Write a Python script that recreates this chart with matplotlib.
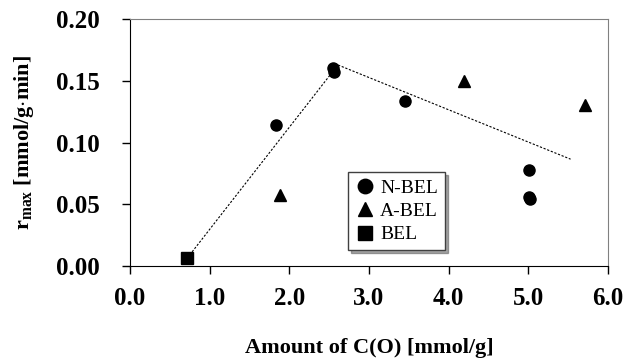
import matplotlib
matplotlib.use("Agg")
import matplotlib.pyplot as plt

plt.rcParams['font.family'] = ['Liberation Serif', 'DejaVu Serif']
plt.rcParams['mathtext.fontset'] = 'custom'
plt.rcParams['mathtext.rm'] = 'Liberation Serif'
plt.rcParams['mathtext.bf'] = 'Liberation Serif:bold'

# data
nbel_x = [1.83, 2.55, 2.56, 3.45, 5.01, 5.01, 5.02]
nbel_y = [0.114, 0.160, 0.157, 0.1335, 0.0775, 0.056, 0.054]
abel_x = [1.88, 4.19, 5.71]
abel_y = [0.0575, 0.150, 0.130]
bel_x = [0.72]
bel_y = [0.0065]
trend_x = [0.72, 2.61, 5.53]
trend_y = [0.0065, 0.1628, 0.0865]

xticks = [0.0, 1.0, 2.0, 3.0, 4.0, 5.0, 6.0]
yticks = [0.00, 0.05, 0.10, 0.15, 0.20]

fig = plt.figure(figsize=(6.24, 3.62), dpi=100)
ax = fig.add_axes([0.2083, 0.2652, 0.7661, 0.6823])

ax.plot(trend_x, trend_y, color='black', lw=0.8, ls=(0, (2, 1.5)), zorder=2)
ax.plot(nbel_x, nbel_y, 'o', color='black', ms=8, ls='none', label='N-BEL', zorder=3)
ax.plot(abel_x, abel_y, '^', color='black', ms=8, ls='none', label='A-BEL', zorder=3)
ax.plot(bel_x, bel_y, 's', color='black', ms=8, ls='none', label='BEL', zorder=3)

ax.set_xlim(0, 6)
ax.set_ylim(0, 0.2)
ax.set_xticks(xticks)
ax.set_yticks(yticks)
ax.set_xticklabels(['%.1f' % v for v in xticks], fontsize=18, fontweight='bold')
ax.set_yticklabels(['%.2f' % v for v in yticks], fontsize=18, fontweight='bold')
ax.tick_params(axis='x', direction='out', length=6, width=1, pad=9)
ax.tick_params(axis='y', direction='out', length=6, width=1, pad=16)

for s in ['top', 'right']:
    ax.spines[s].set_color('#808080')
for s in ['left', 'bottom']:
    ax.spines[s].set_color('black')

ax.set_xlabel('Amount of C(O) [mmol/g]', fontsize=16, fontweight='bold', labelpad=20)
ax.set_ylabel(r'$\mathbf{r}_{\mathbf{max}}$ [mmol/g$\cdot$min]', fontsize=16,
              fontweight='bold', labelpad=14)

leg = ax.legend(loc='upper left', bbox_to_anchor=(0.456, 0.38), fontsize=14,
                frameon=True, fancybox=False, shadow=True, markerscale=1.3,
                handletextpad=0.2, borderpad=0.35, labelspacing=0.3,
                handlelength=1.1, borderaxespad=0)
leg.get_frame().set_edgecolor('#404040')
leg.get_frame().set_linewidth(1)

fig.savefig('out.png', dpi=100)
